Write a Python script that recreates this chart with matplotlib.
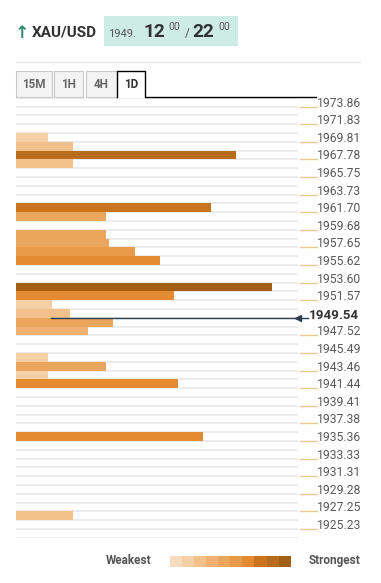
import matplotlib
matplotlib.use("Agg")
import matplotlib.pyplot as plt
import matplotlib.transforms as mtransforms
from matplotlib.patches import Rectangle
from matplotlib.lines import Line2D

plt.rcParams['font.family'] = ['Roboto', 'DejaVu Sans']

# ---------------- data ----------------
tick_labels = [1973.86, 1971.83, 1969.81, 1967.78, 1965.75, 1963.73, 1961.70,
               1959.68, 1957.65, 1955.62, 1953.60, 1951.57, 1949.54, 1947.52,
               1945.49, 1943.46, 1941.44, 1939.41, 1937.38, 1935.36, 1933.33,
               1931.31, 1929.28, 1927.25, 1925.23]
current_price = 1949.54

# confluence levels (price), their strength and strength grade (1..10)
level_price = [1970.31, 1969.30, 1968.29, 1967.27, 1962.21, 1961.20, 1959.17,
               1958.16, 1957.14, 1956.13, 1953.09, 1952.08, 1951.06, 1950.05,
               1949.04, 1948.03, 1944.99, 1943.97, 1942.96, 1941.95, 1935.87,
               1926.75]
level_strength = [11.2, 20.1, 78.0, 20.1, 69.1, 31.9, 31.9, 32.9, 42.2, 51.1,
                  90.8, 56.0, 12.7, 19.1, 34.3, 25.4, 11.2, 31.9, 11.2, 57.3,
                  66.2, 20.1]
level_grade = [2, 3, 9, 3, 8, 5, 5, 5, 6, 7, 10, 7, 2, 3, 5, 4, 2, 5, 2, 7, 7, 3]

palette = ['#f7dcc0', '#f5cfa5', '#f1c08b', '#eeb172', '#eba65e',
           '#e9994a', '#e48b31', '#c97520', '#b86c1e', '#a35e15']

W, H = 381, 583


def fx(x):
    return x / W


def fy(y):
    return 1 - y / H


fig = plt.figure(figsize=(W / 100, H / 100), dpi=100)

# ---------------- main axes ----------------
step = (tick_labels[0] - tick_labels[-1]) / (len(tick_labels) - 1)
half = step / 2
top = tick_labels[0] + half
bottom = tick_labels[-1] - half

ax = fig.add_axes([fx(16), fy(537.8), 282 / W, 440 / H])
ax.set_xlim(0, 100)
ax.set_ylim(bottom, top)
ax.axis('off')

# row grid lines
n_rows = int(round((top - bottom) / half))
bounds = [top - half * k for k in range(n_rows + 1)]
ax.hlines(bounds, 0, 100, color='#e9e9e9', lw=1.2, zorder=1)

colors = [palette[g - 1] for g in level_grade]
ax.barh(level_price, level_strength, height=half, color=colors,
        linewidth=0, zorder=2)

trans = mtransforms.blended_transform_factory(ax.transAxes, ax.transData)
for v in tick_labels:
    if abs(v - current_price) < 1e-6:
        continue
    ax.plot([1.007, 1.066], [v, v], transform=trans, color='#ecc994',
            lw=1, clip_on=False)
    ax.text(1.068, v, f'{v:.2f}', transform=trans, ha='left', va='baseline',
            fontsize=8.7, color='#595959')

# current price line with arrow
ax.plot([0.124, 1.035], [current_price, current_price], transform=trans,
        color='#2c3e50', lw=1, clip_on=False, zorder=4)
ax.plot([1.0], [current_price], transform=trans, marker='<', ms=5,
        color='#2c3e50', clip_on=False, zorder=4)
tr_up = mtransforms.offset_copy(trans, fig=fig, x=0, y=-1, units='dots')
ax.text(1.039, current_price, f'{current_price:.2f}', transform=tr_up,
        ha='left', va='baseline', fontsize=9.6, fontweight='bold',
        color='#333333')

# ---------------- header ----------------
fig.text(fx(14.5), fy(37.8), '↑', fontsize=12.5, fontweight='bold',
         color='#2e8a76', va='baseline', ha='left',
         family=['DejaVu Sans'])
fig.text(fx(32), fy(36.7), 'XAU/USD', fontsize=11, fontweight='bold',
         color='#333333', va='baseline', ha='left')
fig.patches.append(Rectangle((fx(104.3), fy(46)), 134 / W, 30.3 / H,
                             transform=fig.transFigure, fc='#cfece4',
                             ec='none', zorder=0))
fig.text(fx(108.5), fy(37.3), '1949.', fontsize=8, color='#555555',
         va='baseline', ha='left')
fig.text(fx(143.5), fy(37.3), '12', fontsize=13.8, fontweight='bold',
         color='#333333', va='baseline', ha='left')
fig.text(fx(168), fy(29.5), '00', fontsize=7.6, color='#555555',
         va='baseline', ha='left')
fig.text(fx(184.5), fy(37.3), '/', fontsize=8.5, color='#555555',
         va='baseline', ha='left')
fig.text(fx(192), fy(37.3), '22', fontsize=13.8, fontweight='bold',
         color='#333333', va='baseline', ha='left')
fig.text(fx(218), fy(29.5), '00', fontsize=7.6, color='#555555',
         va='baseline', ha='left')

fig.add_artist(Line2D([fx(16), fx(360)], [fy(61.7), fy(61.7)],
                      color='#e6e6e6', lw=1))

# ---------------- tabs ----------------
tabs = ['15M', '1H', '4H']
tab_x = [16, 54.3, 86]
tab_w = [35.7, 29, 30.7]
for name, x0, w in zip(tabs, tab_x, tab_w):
    fig.patches.append(Rectangle((fx(x0), fy(97.3)), w / W, 26.3 / H,
                                 transform=fig.transFigure, fc='#f3f3f3',
                                 ec='#c9c9c9', lw=0.8))
    fig.text(fx(x0 + w / 2), fy(88.4), name, fontsize=8.4, fontweight='bold',
             color='#666666', ha='center', va='baseline')

fig.add_artist(Line2D([fx(117.3), fx(117.3), fx(145), fx(145), fx(316)],
                      [fy(97.3), fy(71), fy(71), fy(97.3), fy(97.3)],
                      color='black', lw=1))
fig.text(fx(131.2), fy(88.4), '1D', fontsize=8.4, fontweight='bold',
         color='#333333', ha='center', va='baseline')

# ---------------- legend ----------------
fig.text(fx(106), fy(564.3), 'Weakest', fontsize=8.5, fontweight='bold',
         color='#555555', ha='left', va='baseline')
fig.text(fx(308.3), fy(564.3), 'Strongest', fontsize=8.5, fontweight='bold',
         color='#555555', ha='left', va='baseline')
lax = fig.add_axes([fx(170), fy(566.7), 120.7 / W, 10.7 / H])
lax.bar(range(len(palette)), 1, width=1, color=palette, linewidth=0)
lax.set_xlim(-0.5, len(palette) - 0.5)
lax.set_ylim(0, 1)
lax.axis('off')

fig.savefig('out.png', dpi=100, facecolor='white')
